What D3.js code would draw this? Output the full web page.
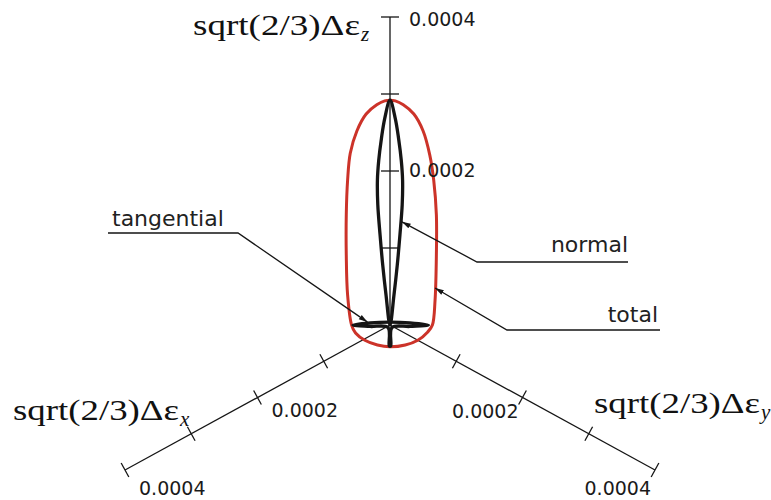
<!DOCTYPE html>
<html>
<head>
<meta charset="utf-8">
<script src="https://cdn.jsdelivr.net/npm/d3@7"></script>
<style>
  html, body { margin: 0; padding: 0; background: #fff; }
  svg { display: block; }
</style>
</head>
<body>
<svg id="chart" width="771" height="500"></svg>
<script>
// Strain-increment curves, components [Δεx, Δεy, Δεz] in units of 1e-6 (scaled by sqrt(2/3)).
const totalCurve = [
  [30, 30, 0], [16, 39, 0], [0, 42, 0], [-19, 38, 0], [-32, 32, 0],
  [-34, 34, 32], [-35, 35, 91], [-35, 35, 143], [-33, 33, 188], [-30, 30, 221],
  [-25, 25, 252], [-18, 18, 274], [-10, 10, 286], [-4, 4, 291], [0, 0, 292],
  [4, -4, 291], [10, -10, 286], [18, -18, 274], [25, -25, 252], [30, -30, 223], [32, -32, 188],
  [33, -33, 143], [33, -33, 91], [32, -32, 39], [29, -29, 0],
  [37, -15, 0], [40, 2, 0], [37, 18, 0]
];
const normalCurve = [
  [0, 0, 292], [-4, 4, 268], [-6.5, 6.5, 242], [-8.5, 8.5, 214], [-9.5, 9.5, 188],
  [-9.2, 9.2, 156], [-7.5, 7.5, 117], [-5.5, 5.5, 78], [-3, 3, 39], [0, 0, 0],
  [3, -3, 39], [5.5, -5.5, 78], [7.5, -7.5, 117], [9.2, -9.2, 156], [9.5, -9.5, 188],
  [8.5, -8.5, 214], [6.5, -6.5, 242], [4, -4, 268]
];
const tangentialCurve = [
  [-29, 29, 0], [-18, 12, 0], [-4, -4, 0], [12, -18, 0], [28, -28, 0],
  [17, -13, 0], [5, 2, 0], [29.5, 28.5, 0], [28.5, 29.5, 0], [2, 5, 0], [-13, 17, 0]
];

// Axis ticks (strain) and the ticks that carry a label
const axisTicks = [1e-4, 2e-4, 3e-4, 4e-4];
const labelledTicks = [2e-4, 4e-4];
const axisMax = 4e-4;
const axisNames = ["x", "y", "z"];

// Leader-line annotations: label text and the point (1e-6 units) the arrow touches
const annotationNames = ["tangential", "normal", "total"];
const annotationTargets = [[13, -21, 0], [-9, 9, 134], [-34, 34, 48]];

const MICRO = 1e-6;
const toStrain = p => p.map(v => v * MICRO);

const svg = d3.select("#chart");
const origin = { x: 390, y: 325 };

// Oblique projection: each in-plane axis has a horizontal and a vertical screen component
const hScale = d3.scaleLinear().domain([0, axisMax]).range([0, 265]);
const vScale = d3.scaleLinear().domain([0, axisMax]).range([0, 145]);
const zScale = d3.scaleLinear().domain([0, axisMax]).range([0, 308]);

function project([ex, ey, ez]) {
  return [
    origin.x + hScale(ey) - hScale(ex),
    origin.y + vScale(ex) + vScale(ey) - zScale(ez)
  ];
}

const axisUnit = { x: [1, 0, 0], y: [0, 1, 0], z: [0, 0, 1] };
const along = (name, t) => axisUnit[name].map(c => c * t);

const ink = "#151515";
const fmt = d3.format(".4f");

// ---- axes ----
const axesG = svg.append("g").attr("stroke", ink).attr("stroke-width", 1.3).attr("fill", "none");

axisNames.forEach(name => {
  const a = project([0, 0, 0]);
  const b = project(along(name, axisMax));
  axesG.append("line")
    .attr("x1", a[0]).attr("y1", a[1])
    .attr("x2", b[0]).attr("y2", b[1]);

  // tick marks perpendicular to the projected axis
  const dx = b[0] - a[0], dy = b[1] - a[1];
  const len = Math.hypot(dx, dy);
  const nx = -dy / len, ny = dx / len;
  const half = name === "z" ? 9 : 8;
  axisTicks.forEach(t => {
    const p = project(along(name, t));
    axesG.append("line")
      .attr("x1", p[0] - nx * half).attr("y1", p[1] - ny * half)
      .attr("x2", p[0] + nx * half).attr("y2", p[1] + ny * half);
  });
});

// ---- curves ----
const line = d3.line().curve(d3.curveCatmullRomClosed.alpha(0.5));

svg.append("path")
  .attr("d", line(totalCurve.map(toStrain).map(project)))
  .attr("fill", "none")
  .attr("stroke", "#cc3329")
  .attr("stroke-width", 3)
  .attr("stroke-linejoin", "round");

svg.append("path")
  .attr("d", line(normalCurve.map(toStrain).map(project)))
  .attr("fill", "none")
  .attr("stroke", ink)
  .attr("stroke-width", 3.3)
  .attr("stroke-linejoin", "round");

svg.append("path")
  .attr("d", line(tangentialCurve.map(toStrain).map(project)))
  .attr("fill", "none")
  .attr("stroke", ink)
  .attr("stroke-width", 3.3)
  .attr("stroke-linejoin", "round");

// ---- tick labels ----
const tickFont = "'DejaVu Sans', Verdana, sans-serif";
const tickLabelG = svg.append("g")
  .attr("font-family", tickFont)
  .attr("font-size", 19)
  .attr("fill", "#1a1a1a");

const tickLabelOffset = {
  z: { anchor: "start", off: t => [19, t === 4e-4 ? 9 : 6] },
  x: { anchor: "start", off: t => [14, t === 4e-4 ? 25 : 19] },
  y: { anchor: "end",   off: t => [-4, t === 4e-4 ? 25 : 20] }
};

axisNames.forEach(name => {
  labelledTicks.forEach(t => {
    const p = project(along(name, t));
    const o = tickLabelOffset[name];
    const [ox, oy] = o.off(t);
    tickLabelG.append("text")
      .attr("x", p[0] + ox).attr("y", p[1] + oy)
      .attr("text-anchor", o.anchor)
      .text(fmt(t));
  });
});

// ---- axis titles: sqrt(2/3)Δε with the component as subscript ----
const titleFont = "'Liberation Serif', 'Times New Roman', serif";
const titlePos = {
  x: { x: 13, y: 420, w: 166 },
  y: { x: 594, y: 413, w: 166 },
  z: { x: 193, y: 35, w: 167 }
};
axisNames.forEach(name => {
  const pos = titlePos[name];
  svg.append("text")
    .attr("x", pos.x).attr("y", pos.y)
    .attr("font-family", titleFont)
    .attr("font-size", 30)
    .attr("fill", "#111")
    .attr("textLength", pos.w)
    .attr("lengthAdjust", "spacingAndGlyphs")
    .text("sqrt(2/3)Δε");
  svg.append("text")
    .attr("x", pos.x + pos.w + 1).attr("y", pos.y + 6)
    .attr("font-family", titleFont)
    .attr("font-style", "italic")
    .attr("font-size", 21)
    .attr("fill", "#111")
    .text(name);
});

// ---- leader lines with arrowheads ----
svg.append("defs").append("marker")
  .attr("id", "arrow")
  .attr("viewBox", "0 -4 10 8")
  .attr("refX", 10).attr("refY", 0)
  .attr("markerUnits", "userSpaceOnUse")
  .attr("markerWidth", 9).attr("markerHeight", 7)
  .attr("orient", "auto")
  .append("path")
  .attr("d", "M0,-3L10,0L0,3Z")
  .attr("fill", ink);

const leaderLayout = {
  tangential: { from: 108, elbow: 238, y: 233, text: [112, 226], anchor: "start" },
  normal:     { from: 628, elbow: 477, y: 262, text: [628, 252], anchor: "end" },
  total:      { from: 660, elbow: 507, y: 330, text: [658, 322], anchor: "end" }
};

annotationNames.forEach((name, i) => {
  const L = leaderLayout[name];
  const tip = project(toStrain(annotationTargets[i]));
  svg.append("path")
    .attr("d", `M${L.from},${L.y}L${L.elbow},${L.y}L${tip[0]},${tip[1]}`)
    .attr("fill", "none")
    .attr("stroke", ink)
    .attr("stroke-width", 1.3)
    .attr("marker-end", "url(#arrow)");
  svg.append("text")
    .attr("x", L.text[0]).attr("y", L.text[1])
    .attr("text-anchor", L.anchor)
    .attr("font-family", tickFont)
    .attr("font-size", 22)
    .attr("fill", "#222")
    .text(name);
});
</script>
</body>
</html>
